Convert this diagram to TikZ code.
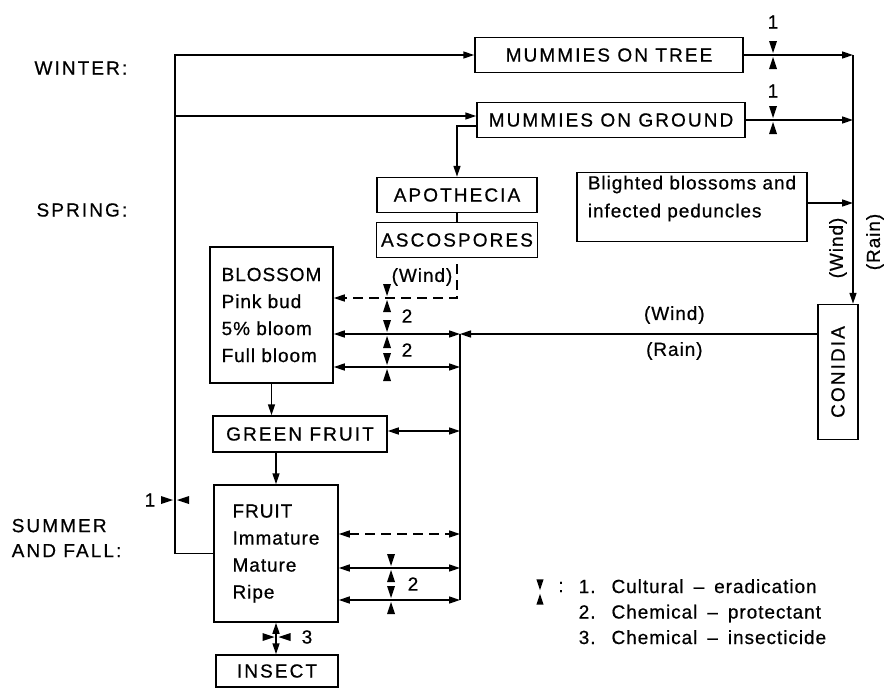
\documentclass[tikz,border=0pt]{standalone}
\usepackage{fontspec}
\setmainfont{Liberation Sans}[LetterSpace=5, FakeBold=0.6]
\newfontfamily\capsfont{Liberation Sans}[LetterSpace=11, FakeBold=0.6]
\usetikzlibrary{arrows.meta}

\begin{document}
\begin{tikzpicture}[x=1pt, y=-1pt, line width=1.5pt,
  font=\fontsize{19}{26}\selectfont,
  box/.style={draw, line width=1.5pt, inner sep=0pt, font=\fontsize{19}{26}\selectfont\capsfont},
  mixed/.style={font=\fontsize{19}{27}\selectfont, align=left},
  season/.style={inner sep=0pt, font=\fontsize{19}{25}\selectfont\capsfont},
  arr/.style={-{Triangle[length=11pt, width=7pt]}},
  dbl/.style={{Triangle[length=11pt, width=7pt]}-{Triangle[length=11pt, width=7pt]}},
  dsh/.style={dash pattern=on 10pt off 6pt},
  vpin/.pic={\fill (-4,-14) -- (4,-14) -- (0,-2) -- cycle;
    \fill (-4,14) -- (4,14) -- (0,2) -- cycle;},
  hpin/.pic={\fill (-14,-4) -- (-14,4) -- (-2,0) -- cycle;
    \fill (14,-4) -- (14,4) -- (2,0) -- cycle;}]
\useasboundingbox (0,0) rectangle (885,688);

% seasons
\node[season, anchor=east] (winter) at (128,68) {WINTER:};
\node[season, anchor=east] (spring) at (128,210) {SPRING:};
\node[season, anchor=west, align=left] (summer) at (11,538) {SUMMER\\AND FALL:};

% boxes
\node[box, minimum width=268, minimum height=35] (tree) at (609,55) {MUMMIES ON TREE};
\node[box, minimum width=268, minimum height=35] (ground) at (611,120) {MUMMIES ON GROUND};
\node[box, minimum width=160, minimum height=35] (apoth) at (457,195) {APOTHECIA};
\node[box, minimum width=161, minimum height=35] (asco) at (457,240) {ASCOSPORES};
\node[box, mixed, font=\fontsize{19}{28}\selectfont, minimum width=230, minimum height=69,
  text depth=21pt] (blighted) at (692,207) {Blighted blossoms and\\infected peduncles};
\node[box, mixed, minimum width=123, minimum height=136] (blossom) at (271.5,315)
  {BLOSSOM\\Pink bud\\5\% bloom\\Full bloom};
\node[box, minimum width=40, minimum height=135] (conidia) at (838,372) {\rotatebox{90}{CONIDIA}};
\node[box, minimum width=174, minimum height=36] (green) at (300,434) {GREEN FRUIT};
\node[box, mixed, minimum width=124, minimum height=137] (fruit) at (276,553.5)
  {FRUIT\\Immature\\Mature\\Ripe};
\node[box, minimum width=122, minimum height=32] (insect) at (277,671) {INSECT};

% turning points
\coordinate (lx) at (175,55);
\coordinate (gin) at (175,116);
\coordinate (gout) at (457,126);
\coordinate (rx) at (853,55);
\coordinate (bl) at (853,203);
\coordinate (d0) at (460,298);
\coordinate (b1) at (460,334);
\coordinate (b2) at (460,367);
\coordinate (g1) at (460,431);
\coordinate (f0) at (460,534);
\coordinate (f1) at (460,568);
\coordinate (f2) at (460,600);

% winter
\draw[arr] (fruit.west) -| (lx) -- (tree.west);
\draw[arr] (gin) -- (ground.west |- gin);
\draw[arr] (ground.west |- gout) -| (apoth.north);
\draw (apoth) -- (asco);
\draw[arr] (tree.east) -- (tree.east -| rx);
\draw[arr] (ground.east) -- (ground.east -| rx);
\draw[arr] (blighted.east |- bl) -- (bl);
\draw[arr] (rx) -- (rx |- conidia.north);
\node[rotate=90] (wind1) at (838,248) {(Wind)};
\node[rotate=90] (rain1) at (875,242) {(Rain)};

% spring and summer
\draw[arr, dsh, dash phase=10pt] (asco.south) |- (blossom.east |- d0);
\node (wind2) at (422,277) {(Wind)};
\draw[dbl] (blossom.east |- b1) -- (b1);
\draw[dbl] (blossom.east |- b2) -- (b2);
\draw[arr] (blossom.south) -- (blossom.south |- green.north);
\draw[arr] (fruit.north |- green.south) -- (fruit.north);
\draw[dbl] (green.east |- g1) -- (g1);
\draw[dbl, dsh] (fruit.east |- f0) -- (f0);
\draw[dbl] (fruit.east |- f1) -- (f1);
\draw[dbl] (fruit.east |- f2) -- (f2);
\draw (b1) -- (f2);
\draw[arr] (conidia.west |- b1) -- node[pos=0.4, above=6pt] (wind3) {(Wind)}
  node[pos=0.4, below=4pt] (rain3) {(Rain)} (b1);
\draw[dbl] (fruit.south) -- (fruit.south |- insect.north);

% control points
\pic at (773,55) {vpin};   \node (c1a) at (773,22) {1};
\pic at (773,120) {vpin};  \node (c1b) at (773,91) {1};
\pic at (175,500) {hpin};  \node (c1c) at (150,500) {1};
\pic at (387,298) {vpin};
\pic at (387,334) {vpin};  \node (c2a) at (407,316) {2};
\pic at (387,367) {vpin};  \node (c2b) at (407,350) {2};
\pic at (391,568) {vpin};
\pic at (391,600) {vpin};  \node (c2c) at (413,584) {2};
\pic at (276.5,637) {hpin}; \node (c3) at (307,637) {3};

% legend
\pic[scale=0.9] at (540,592) {vpin};
\node (colon) at (561,587) {:};
\node[anchor=base west, inner sep=0pt, font=\fontsize{19}{25.5}\selectfont] (legend) at (578,593)
  {\begin{tabular}[t]{@{}l@{\hspace{16pt}}l@{}}
   1. & Cultural\hspace{10pt}–\hspace{10pt}eradication\\
   2. & Chemical\hspace{10pt}–\hspace{10pt}protectant\\
   3. & Chemical\hspace{10pt}–\hspace{10pt}insecticide
   \end{tabular}};
\end{tikzpicture}
\end{document}
